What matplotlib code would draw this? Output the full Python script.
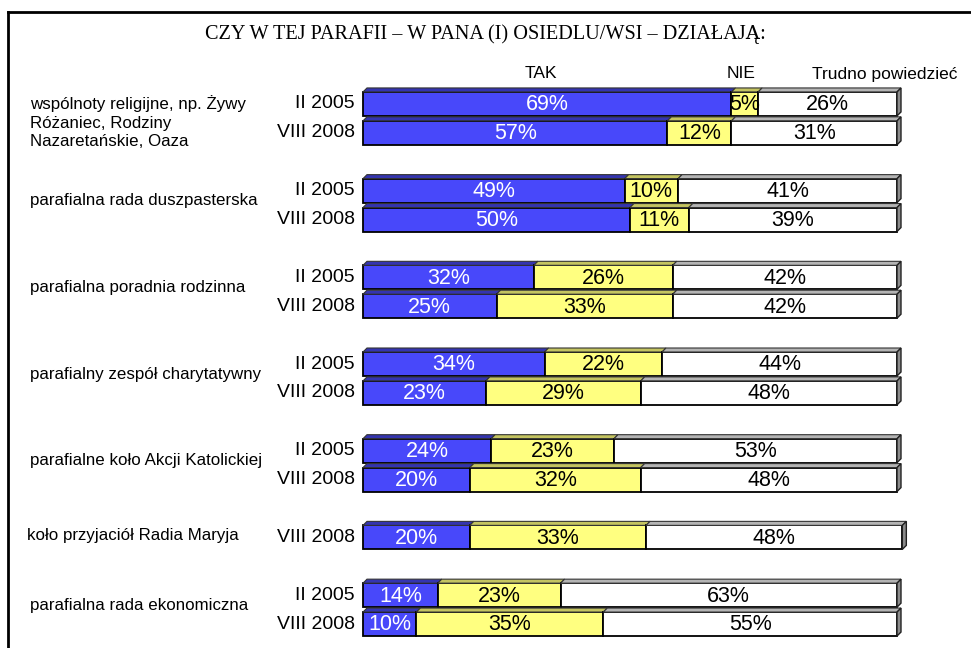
import matplotlib
matplotlib.use("Agg")
import matplotlib.pyplot as plt
from matplotlib.patches import Polygon
from matplotlib.transforms import blended_transform_factory

# data
groups = [
    "wspólnoty religijne, np. Żywy\nRóżaniec, Rodziny\nNazaretańskie, Oaza",
    "parafialna rada duszpasterska",
    "parafialna poradnia rodzinna",
    "parafialny zespół charytatywny",
    "parafialne koło Akcji Katolickiej",
    "koło przyjaciół Radia Maryja",
    "parafialna rada ekonomiczna",
]
years = [["II 2005", "VIII 2008"], ["II 2005", "VIII 2008"], ["II 2005", "VIII 2008"],
         ["II 2005", "VIII 2008"], ["II 2005", "VIII 2008"], ["VIII 2008"],
         ["II 2005", "VIII 2008"]]
tak = [[69, 57], [49, 50], [32, 25], [34, 23], [24, 20], [20], [14, 10]]
nie = [[5, 12], [10, 11], [26, 33], [22, 29], [23, 32], [33], [23, 35]]
trudno = [[26, 31], [41, 39], [42, 42], [44, 48], [53, 48], [48], [63, 55]]
series_names = ["TAK", "NIE", "Trudno powiedzieć"]

rows = [[0, 1], [3, 4], [6, 7], [9, 10], [12, 13], [15], [17, 18]]

front = ["#4848FA", "#FFFF80", "#FFFFFF"]
top_col = ["#3434B0", "#C4C460", "#B4B4B4"]
txt_col = ["white", "black", "black"]

fig = plt.figure(figsize=(9.71, 6.48), dpi=100)
ax = fig.add_axes([363 / 971, 1 - 638.5 / 648, 534 / 971, 549 / 648])
ax.set_xlim(0, 100)
ax.set_ylim(18.5, -0.5)
ax.axis("off")

h = 24 / 28.9
dx = 4 / 534 * 100
dy = 4 / 28.9

lbl_tr = blended_transform_factory(fig.transFigure, ax.transData)

for g, name in enumerate(groups):
    for k, r in enumerate(rows[g]):
        vals = [tak[g][k], nie[g][k], trudno[g][k]]
        left = 0
        top = r - h / 2
        for s, v in enumerate(vals):
            ax.barh(r, v, left=left, height=h, color=front[s],
                    edgecolor="black", linewidth=1.3, clip_on=False, zorder=2)
            ax.add_patch(Polygon([(left, top), (left + dx, top - dy),
                                  (left + v + dx, top - dy), (left + v, top)],
                                 closed=True, facecolor=top_col[s], edgecolor="#333333",
                                 linewidth=0.8, clip_on=False, zorder=2))
            ax.text(left + v / 2, r + 0.03, f"{v}%", ha="center", va="center",
                    fontsize=15.5, color=txt_col[s], family="Liberation Sans", zorder=4)
            left += v
        ax.add_patch(Polygon([(left, top), (left + dx, top - dy),
                              (left + dx, r + h / 2 - dy), (left, r + h / 2)],
                             closed=True, facecolor="#8C8C8C", edgecolor="#222222",
                             linewidth=1.0, clip_on=False, zorder=2))
        ax.text(-1.5, r, years[g][k], ha="right", va="center", fontsize=14,
                family="Liberation Sans")
    yc = sum(rows[g]) / len(rows[g])
    if g == 0:
        ax.text(30 / 971, -0.3, name, transform=lbl_tr, ha="left", va="top",
                fontsize=12.2, family="Liberation Sans", linespacing=1.3)
    elif g == 5:
        ax.text(27 / 971, yc - 0.05, name, transform=lbl_tr,
                ha="left", va="center", fontsize=12.2, family="Liberation Sans")
    else:
        ax.text(30 / 971, yc - 0.15, name, transform=lbl_tr,
                ha="left", va="center", fontsize=12.2, family="Liberation Sans")

# header labels
fig.text(541 / 971, 1 - 74 / 648, series_names[0], ha="center", va="center",
         fontsize=12.5, family="Liberation Sans")
fig.text(741 / 971, 1 - 74 / 648, series_names[1], ha="center", va="center",
         fontsize=12.5, family="Liberation Sans")
fig.text(812 / 971, 1 - 74 / 648, series_names[2], ha="left", va="center",
         fontsize=12.5, family="Liberation Sans")

fig.text(485 / 971, 1 - 34 / 648, "CZY W TEJ PARAFII – W PANA (I) OSIEDLU/WSI – DZIAŁAJĄ:",
         ha="center", va="center", fontsize=14.6, family="Liberation Serif")

# frame (top and left only)
fig.add_artist(plt.Line2D([8 / 971, 1], [1 - 12 / 648, 1 - 12 / 648], color="black", lw=2))
fig.add_artist(plt.Line2D([8 / 971, 8 / 971], [0, 1 - 12 / 648], color="black", lw=2))

fig.savefig("out.png", dpi=100)
